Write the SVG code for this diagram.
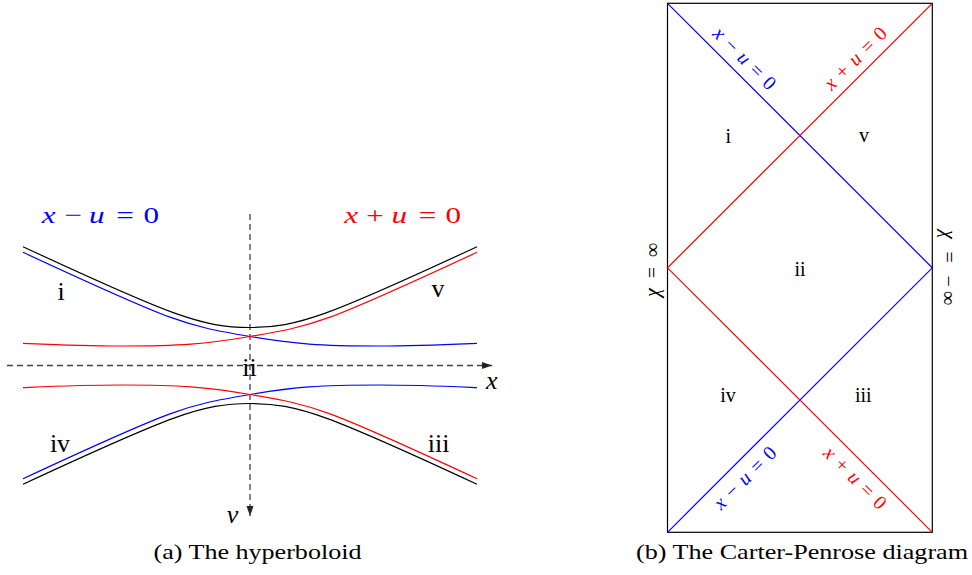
<svg xmlns="http://www.w3.org/2000/svg" width="972" height="575" viewBox="0 0 972 575">
<defs>
<marker id="arr" markerUnits="userSpaceOnUse" markerWidth="10" markerHeight="8" refX="10" refY="3.5" orient="auto"><path d="M0,0 L10,3.5 L0,7 Z" fill="#222"/></marker>
</defs>
<style>
text{font-family:"Liberation Serif","Times New Roman",serif;fill:#000}
.lbl{font-size:26px}
.rl{font-size:20px}
.cap{font-size:22px}
.it{font-style:italic}
.c{fill:none;stroke-width:1.2}
.k{stroke:#000}
.b{stroke:#0000ff}
.r{stroke:#ff0000}
.axis{fill:none;stroke:#444;stroke-width:1.3;stroke-dasharray:6 4}
.blue{fill:#0000ff}
.red{fill:#ff0000}
</style>
<rect width="972" height="575" fill="#fff"/>

<g id="hyperboloid">
  <g id="axes">
    <line class="axis" x1="7" y1="365.5" x2="492" y2="365.5" marker-end="url(#arr)"/>
    <line class="axis" x1="250" y1="214" x2="250" y2="516" marker-end="url(#arr)"/>
  </g>
  <g id="curves">
    <path class="c k" d="M23,246.7 C170.7,315.4 202.1,327.5 250,327.5 C297.9,327.5 329.3,315.4 477,246.7"/>
    <path class="c b" d="M23,252.3 C177.6,324.2 184.8,325.4 250,336.5 C294.7,344.1 320.3,346 378,346 C420,346 450,344.5 477,343.3"/>
    <path class="c r" d="M477,252.3 C322.4,324.2 315.2,325.4 250,336.5 C205.3,344.1 179.7,346 122,346 C80,346 50,344.5 23,343.3"/>
    <path class="c k" d="M23,484.3 C170.7,415.6 202.1,403.5 250,403.5 C297.9,403.5 329.3,415.6 477,484.3"/>
    <path class="c b" d="M23,478.7 C177.6,406.8 184.8,405.6 250,394.5 C294.7,386.9 320.3,385 378,385 C420,385 450,386.5 477,387.7"/>
    <path class="c r" d="M477,478.7 C322.4,406.8 315.2,405.6 250,394.5 C205.3,386.9 179.7,385 122,385 C80,385 50,386.5 23,387.7"/>
  </g>
  <g id="eq-left">
    <text class="blue" font-size="24" transform="scale(1.3,1)" text-anchor="middle" y="223"><tspan x="37.54" class="it">x</tspan><tspan x="56.38">−</tspan><tspan x="74.38" class="it">u</tspan><tspan x="96.15">=</tspan><tspan x="116.38">0</tspan></text>
    <text class="red" font-size="24" transform="scale(1.3,1)" text-anchor="middle" y="223"><tspan x="270.15" class="it">x</tspan><tspan x="288.46">+</tspan><tspan x="307.08" class="it">u</tspan><tspan x="328.85">=</tspan><tspan x="348.69">0</tspan></text>
  </g>
  <g id="regions-left" text-anchor="middle">
    <text class="lbl" x="61" y="300">i</text>
    <text class="lbl" x="438" y="297">v</text>
    <text class="lbl" x="249.5" y="376">ii</text>
    <text class="lbl" x="60" y="452">iv</text>
    <text class="lbl" x="438.7" y="452">iii</text>
    <text class="lbl it" x="491.7" y="389">x</text>
    <text class="lbl it" x="232.5" y="523">v</text>
  </g>
  <text class="cap" x="257.5" y="559" text-anchor="middle" textLength="208" lengthAdjust="spacingAndGlyphs">(a) The hyperboloid</text>
</g>

<g id="penrose">
  <rect x="667.5" y="3.3" width="264.8" height="529" fill="none" stroke="#000" stroke-width="1.2"/>
  <g id="null-lines">
    <polyline class="c b" points="667.5,3.3 932.3,267.8 667.5,532.3"/>
    <polyline class="c r" points="932.3,3.3 667.5,267.8 932.3,532.3"/>
  </g>
  <g id="regions-right" text-anchor="middle">
    <text class="rl" x="728.3" y="142.5">i</text>
    <text class="rl" x="864" y="141.5">v</text>
    <text class="rl" x="800" y="276">ii</text>
    <text class="rl" x="728" y="402.3">iv</text>
    <text class="rl" x="863.3" y="402.3">iii</text>
  </g>
  <g id="eq-right" text-anchor="middle">
    <text class="rl blue" transform="translate(740,63) rotate(45)" textLength="80" lengthAdjust="spacing"><tspan class="it">x</tspan> − <tspan class="it">u</tspan> = 0</text>
    <text class="rl red" transform="translate(860,63) rotate(-45)" textLength="80" lengthAdjust="spacing"><tspan class="it">x</tspan> + <tspan class="it">u</tspan> = 0</text>
    <text class="rl blue" transform="translate(749.5,482.5) rotate(-45)" textLength="80" lengthAdjust="spacing"><tspan class="it">x</tspan> − <tspan class="it">u</tspan> = 0</text>
    <text class="rl red" transform="translate(850.5,482.5) rotate(45)" textLength="80" lengthAdjust="spacing"><tspan class="it">x</tspan> + <tspan class="it">u</tspan> = 0</text>
    <text class="rl" transform="translate(658.5,270) rotate(-90)" textLength="54" lengthAdjust="spacing"><tspan class="it">χ</tspan> = ∞</text>
    <text class="rl" transform="translate(941.5,267.5) rotate(90)" textLength="75" lengthAdjust="spacing"><tspan class="it">χ</tspan> = −∞</text>
  </g>
  <text class="cap" x="802" y="559" text-anchor="middle" textLength="332" lengthAdjust="spacingAndGlyphs">(b) The Carter-Penrose diagram</text>
</g>
</svg>
